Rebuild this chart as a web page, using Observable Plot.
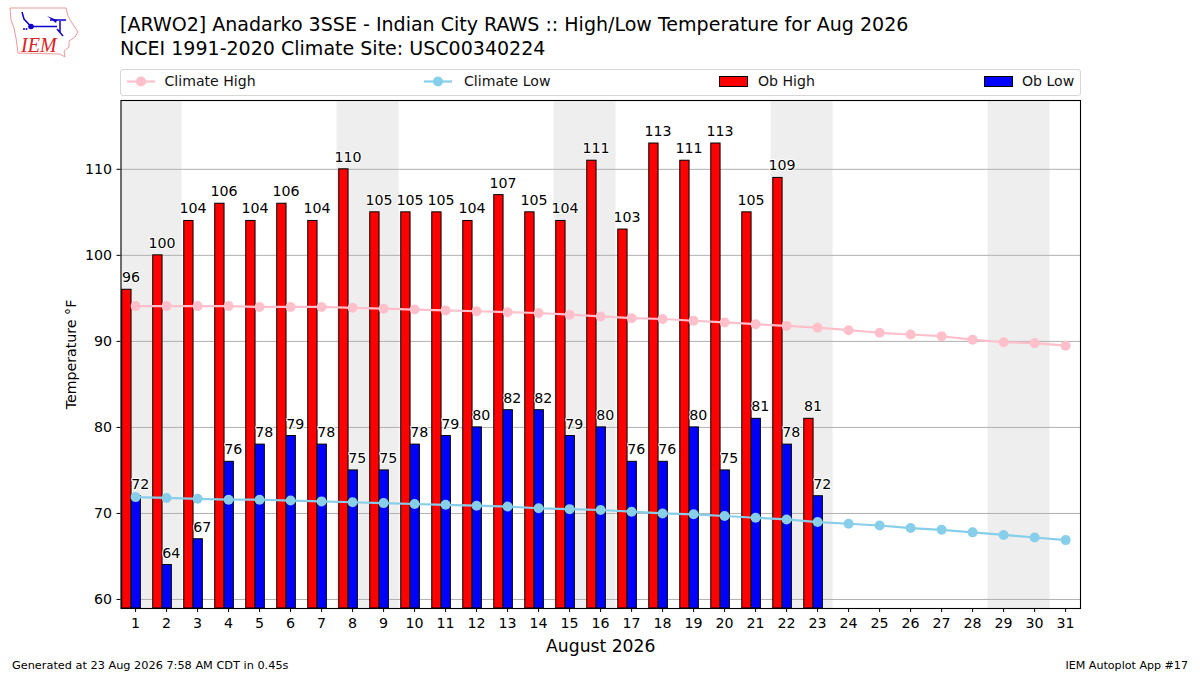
<!DOCTYPE html>
<html>
<head>
<meta charset="utf-8">
<script src="https://cdn.jsdelivr.net/npm/d3@7"></script>
<script src="https://cdn.jsdelivr.net/npm/@observablehq/plot@0.6"></script>
<style>
html,body{margin:0;padding:0;background:#fff;}
body{width:1200px;height:675px;position:relative;overflow:hidden;font-family:"DejaVu Sans",sans-serif;color:#000;}
#chart{position:absolute;left:0;top:0;}
.t{position:absolute;white-space:nowrap;line-height:1;}
#legend{position:absolute;left:120px;top:69px;width:959px;height:25px;border:1px solid #d6d6d6;border-radius:3px;background:#fff;}
.lt{position:absolute;white-space:nowrap;font-size:14.1px;line-height:1;color:#111;}
svg.sw{position:absolute;overflow:visible;}
</style>
</head>
<body>
<div id="chart"></div>

<svg class="sw" style="left:0;top:0" width="90" height="60" viewBox="0 0 90 60">
  <path d="M10 8 L66 8 L68 16 L72 23 L78 32 L75 37 L69 41 L69 47 L64 51 L65 57 L60 54 L18 53 L16 38 L14 28 L11 20 Z" fill="none" stroke="#e99" stroke-width="1"/>
  <path d="M31 26.5 H57 M22 12 L24 19 L31 26.5 M50 20 H66 M60 21 V33 M57 29 L63 36" fill="none" stroke="#10c" stroke-width="1.5"/>
  <circle cx="31" cy="26.5" r="2.8" fill="#10c"/>
  <path d="M47 16 L57 20 L56 23 Z" fill="#10c"/>
  <circle cx="24" cy="29" r="1" fill="#10c"/><circle cx="26.5" cy="29" r="1" fill="#10c"/>
  <text x="21" y="52" font-family="Liberation Serif" font-style="italic" font-size="20" fill="#d22">IEM</text>
</svg>

<div class="t" id="title1" style="left:120px;top:15px;font-size:19.04px;">[ARWO2] Anadarko 3SSE - Indian City RAWS :: High/Low Temperature for Aug 2026</div>
<div class="t" id="title2" style="left:120px;top:39px;font-size:19.04px;">NCEI 1991-2020 Climate Site: USC00340224</div>

<div id="legend"></div>

<div class="t" style="left:12px;top:660px;font-size:11.3px;">Generated at 23 Aug 2026 7:58 AM CDT in 0.45s</div>
<div class="t" style="right:12px;top:660px;font-size:11.1px;">IEM Autoplot App #17</div>

<script>
const days = d3.range(1, 32);
const obHigh = [96,100,104,106,104,106,104,110,105,105,105,104,107,105,104,111,103,113,111,113,105,109,81];
const obLow = [72,64,67,76,78,79,78,75,75,78,79,80,82,82,79,80,76,76,80,75,81,78,72];
const climateHigh = [94.1,94.1,94.1,94.1,94.0,94.0,94.0,93.9,93.8,93.7,93.6,93.5,93.4,93.3,93.1,92.9,92.7,92.6,92.4,92.2,92.0,91.8,91.6,91.3,91.0,90.8,90.6,90.2,89.9,89.8,89.5];
const climateLow = [71.9,71.8,71.7,71.6,71.6,71.5,71.4,71.3,71.2,71.1,71.0,70.9,70.8,70.6,70.5,70.4,70.2,70.0,69.9,69.7,69.5,69.3,69.0,68.8,68.6,68.3,68.1,67.8,67.5,67.2,66.9];
const weekendStarts = [1,8,15,22,29];
const yTicks = [60,70,80,90,100,110];
const legendLabels = ["Climate High","Climate Low","Ob High","Ob Low"];

const rowsHigh = obHigh.map((v,i)=>({day:days[i],v}));
const rowsLow = obLow.map((v,i)=>({day:days[i],v}));
const rowsCH = climateHigh.map((v,i)=>({day:days[i],v}));
const rowsCL = climateLow.map((v,i)=>({day:days[i],v}));
const xMin = 0.53, xMax = 31.48, yMin = 58.95, yMax = 118;
const bar = (rows, a, b, fill) => Plot.rectY(rows, {
  x1:d=>d.day+a, x2:d=>d.day+b, y1:yMin, y2:"v", fill, stroke:"#000", strokeWidth:1, clip:true, inset:0
});
const labels = (rows, off) => Plot.text(rows, {
  x:d=>d.day+off, y:"v", text:d=>String(d.v), dy:-12, fill:"#000", stroke:"#fff", strokeWidth:2, paintOrder:"stroke",
  fontSize:14.2, textAnchor:"middle"
});
const plot = Plot.plot({
  width:1200, height:675,
  marginLeft:120.5, marginRight:120, marginTop:100, marginBottom:67,
  style:{fontFamily:"DejaVu Sans",fontSize:"13.9px",background:"transparent",color:"#000"},
  x:{type:"linear",domain:[xMin,xMax],range:[120.5,1080]},
  y:{type:"linear",domain:[yMin,yMax],range:[608,100]},
  marks:[
    Plot.rect(weekendStarts,{x1:d=>Math.max(d-0.5,xMin),x2:d=>d+1.5,y1:yMin,y2:yMax,fill:"#eeeeee"}),
    Plot.ruleY(yTicks,{stroke:"#b0b0b0",strokeWidth:1}),
    bar(rowsHigh,-0.43,-0.13,"#ff0000"),
    bar(rowsLow,-0.13,0.17,"#0000ff"),
    Plot.line(rowsCH,{x:"day",y:"v",stroke:"#ffc0cb",strokeWidth:2.2}),
    Plot.dot(rowsCH,{x:"day",y:"v",r:5,fill:"#ffc0cb",stroke:"none"}),
    Plot.line(rowsCL,{x:"day",y:"v",stroke:"#87ceeb",strokeWidth:2.2}),
    Plot.dot(rowsCL,{x:"day",y:"v",r:5,fill:"#87ceeb",stroke:"none"}),
    labels(rowsHigh,-0.15),
    labels(rowsLow,0.15),
    Plot.axisX({ticks:days,tickFormat:d=>String(d),tickSize:4,tickPadding:5,label:null,fontSize:14.2,stroke:"#000",fill:"#000"}),
    Plot.axisY({ticks:yTicks,tickSize:4,tickPadding:5,label:null,fontSize:14.2,stroke:"#000",fill:"#000"}),
    Plot.frame({stroke:"#000",strokeWidth:1.1}),
    Plot.text(["August 2026"],{frameAnchor:"bottom",dy:43,text:d=>d,fontSize:17.2,fill:"#000"}),
    Plot.text(["Temperature °F"],{frameAnchor:"left",dx:-50,rotate:-90,textAnchor:"middle",text:d=>d,fontSize:14.2,fill:"#000"})
  ]
});
document.getElementById("chart").appendChild(plot);

const lg = document.getElementById("legend");
const swatchSvg = (left, color) => `<svg class="sw" style="left:${left-121}px;top:0" width="30" height="25"><line x1="0" x2="28" y1="11.5" y2="11.5" stroke="${color}" stroke-width="2.2"/><circle cx="14" cy="11.5" r="5" fill="${color}"/></svg>`;
const boxSvg = (left, color) => `<div style="position:absolute;left:${left-121}px;top:6px;width:27px;height:9px;background:${color};border:1px solid #000"></div>`;
const txt = (left, s) => `<div class="lt" style="left:${left-121}px;top:4px">${s}</div>`;
lg.innerHTML = swatchSvg(127,"#ffc0cb")+txt(164.5,legendLabels[0])
  +swatchSvg(424,"#87ceeb")+txt(464,legendLabels[1])
  +boxSvg(719,"#ff0000")+txt(758,legendLabels[2])
  +boxSvg(984,"#0000ff")+txt(1022,legendLabels[3]);
</script>
</body>
</html>
